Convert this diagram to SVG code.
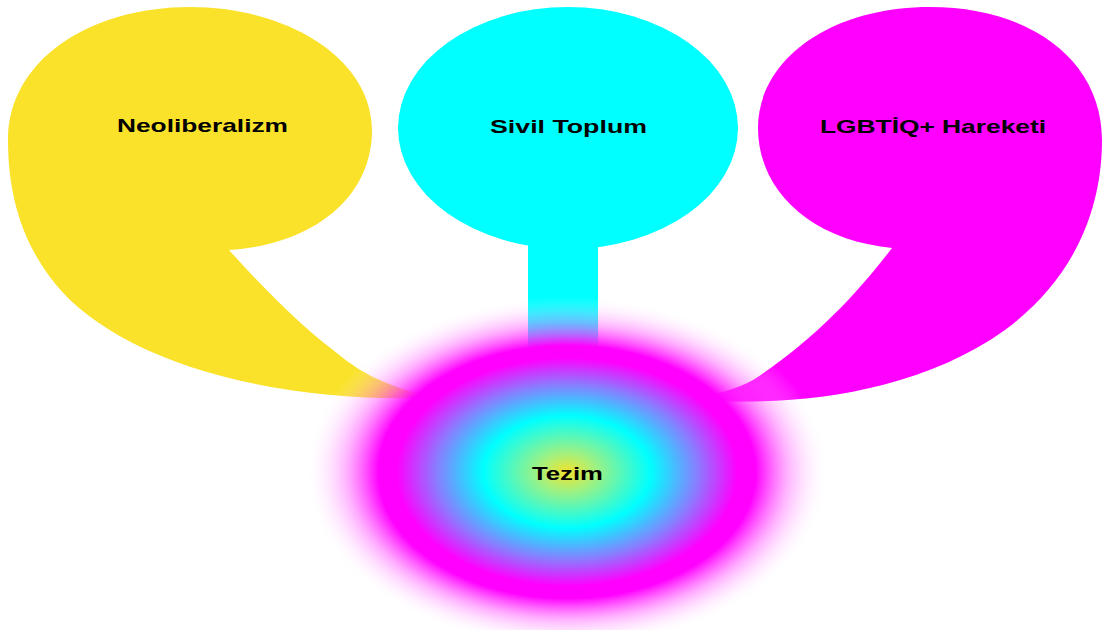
<svg xmlns="http://www.w3.org/2000/svg" width="1106" height="630" viewBox="0 0 1106 630">
<style>
.lbl{font-family:"Liberation Sans",Arial,sans-serif;font-weight:bold;font-size:18.5px;fill:#000;text-anchor:start}
</style>
<defs>
<radialGradient id="glow" cx="567" cy="472" r="262" gradientUnits="userSpaceOnUse" gradientTransform="translate(567 472) scale(1 0.67) translate(-567 -472)">
<stop offset="0" stop-color="#f2e22a"/>
<stop offset="0.1" stop-color="#a8f07a"/>
<stop offset="0.32" stop-color="#00ffff"/>
<stop offset="0.5" stop-color="#8a7cff"/>
<stop offset="0.65" stop-color="#ff00ff"/>
<stop offset="0.72" stop-color="#ff00ff"/>
<stop offset="0.84" stop-color="#ff50ff" stop-opacity="0.45"/>
<stop offset="1" stop-color="#ffffff" stop-opacity="0"/>
</radialGradient>
</defs>
<rect width="1106" height="630" fill="#fff"/>
<g id="node-neoliberalizm">
<path fill="#fae22a" d="M229,250 C265,290 300,325 333,350 C355,368 375,382 420,394 L420,398 C300,401 150,375 70,300 C25,255 8,200 8,140 C8,60 90,7 190,7 C290,7 372,60 372,130 C372,200 310,245 229,250 Z"/>
<text class="lbl" x="117" y="132" textLength="171" lengthAdjust="spacingAndGlyphs">Neoliberalizm</text>
</g>
<g id="node-sivil-toplum">
<ellipse cx="568" cy="128" rx="170" ry="121" fill="#00ffff"/>
<rect x="528" y="240" width="70" height="130" fill="#00ffff"/>
<text class="lbl" x="490" y="133" textLength="157" lengthAdjust="spacingAndGlyphs">Sivil Toplum</text>
</g>
<g id="node-lgbtiq">
<path fill="#ff00ff" d="M892,248 C860,290 815,340 753,380 C735,390 715,394 700,397 L700,400 C780,406 910,398 1005,330 C1070,282 1102,215 1102,140 C1102,60 1030,7 930,7 C830,7 758,60 758,128 C758,190 810,240 892,248 Z"/>
<text class="lbl" x="820" y="133" textLength="226" lengthAdjust="spacingAndGlyphs">LGBTİQ+ Hareketi</text>
</g>
<g id="connectors"></g>
<g id="node-tezim">
<ellipse cx="567" cy="472" rx="262" ry="176" fill="url(#glow)"/>
<text class="lbl" x="532" y="480" textLength="71" lengthAdjust="spacingAndGlyphs">Tezim</text>
</g>
</svg>
